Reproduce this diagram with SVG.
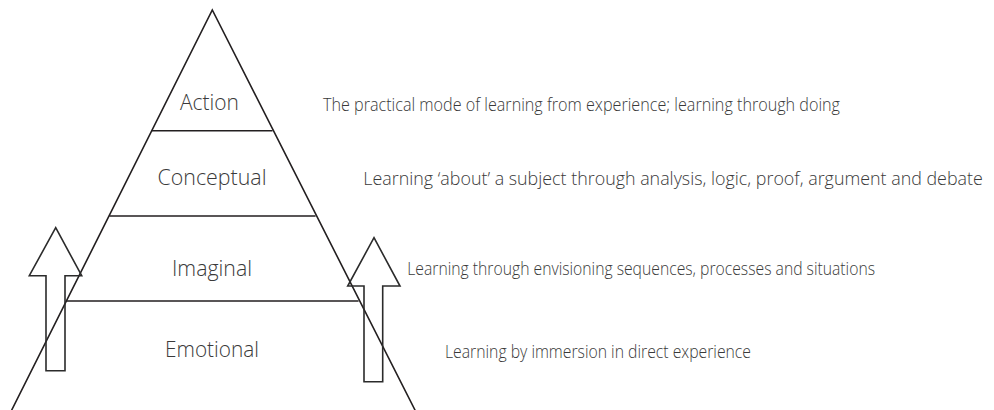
<svg xmlns="http://www.w3.org/2000/svg" width="994" height="410" viewBox="0 0 994 410">
<style>
.ln{stroke:#231f20;stroke-width:1.6;fill:none;stroke-linecap:round}
.ar{stroke:#2b2b2b;stroke-width:1.6;fill:none;stroke-linejoin:miter}
.lbl{font-family:"Open Sans","Noto Sans","Liberation Sans",sans-serif;font-weight:300;font-size:22px;fill:#3a3a3a;text-anchor:middle}
.desc{font-family:"Open Sans","Noto Sans","Liberation Sans",sans-serif;font-weight:300;font-size:18px;fill:#3a3a3a}
</style>
<rect width="994" height="410" fill="#ffffff"/>
<g id="pyramid">
<polyline class="ln" points="11.7,410 212.3,10 415,410"/>
<line class="ln" x1="152" y1="130.7" x2="272" y2="130.7"/>
<line class="ln" x1="110" y1="216" x2="315" y2="216"/>
<line class="ln" x1="66.5" y1="301" x2="358" y2="301"/>
</g>
<g id="action">
<text class="lbl" x="209.5" y="110" textLength="59" lengthAdjust="spacingAndGlyphs">Action</text>
<text class="desc" x="323" y="111" textLength="517" lengthAdjust="spacingAndGlyphs">The practical mode of learning from experience; learning through doing</text>
</g>
<g id="conceptual">
<text class="lbl" x="212" y="184.5" textLength="109" lengthAdjust="spacingAndGlyphs">Conceptual</text>
<text class="desc" x="363.3" y="185" textLength="619.5" lengthAdjust="spacingAndGlyphs">Learning ‘about’ a subject through analysis, logic, proof, argument and debate</text>
</g>
<g id="imaginal">
<text class="lbl" x="212" y="276" textLength="80" lengthAdjust="spacingAndGlyphs">Imaginal</text>
<text class="desc" x="407.3" y="275" textLength="467.7" lengthAdjust="spacingAndGlyphs">Learning through envisioning sequences, processes and situations</text>
</g>
<g id="emotional">
<text class="lbl" x="212" y="357" textLength="94" lengthAdjust="spacingAndGlyphs">Emotional</text>
<text class="desc" x="445" y="358" textLength="306" lengthAdjust="spacingAndGlyphs">Learning by immersion in direct experience</text>
</g>
<g id="connectors">
<polygon id="arrow-left" class="ar" points="55.7,227.7 81.7,275.7 65,275.7 65,370.7 46,370.7 46,275.7 29.3,275.7"/>
<polygon id="arrow-right" class="ar" points="374,237.7 400,286 382.7,286 382.7,381.7 364,381.7 364,286 347.7,286"/>
</g>
</svg>
